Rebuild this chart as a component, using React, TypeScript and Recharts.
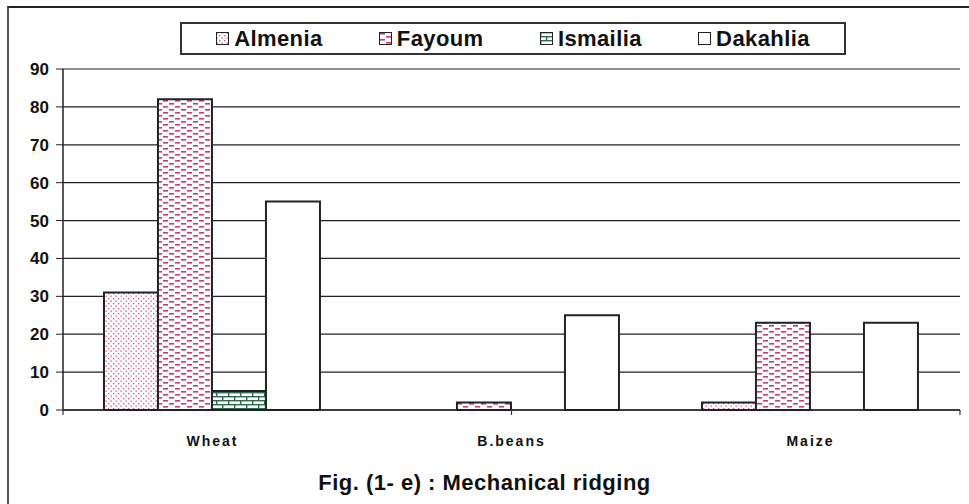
import { BarChart, Bar, XAxis, YAxis, CartesianGrid } from 'recharts';

const crops = ['Wheat', 'B.beans', 'Maize'];
const almenia = [31, 0, 2];
const fayoum = [82, 2, 23];
const ismailia = [5, 0, 0];
const dakahlia = [55, 25, 23];
const yTicks = [0, 10, 20, 30, 40, 50, 60, 70, 80, 90];
const boundaryTicks = [0, 1, 2, 3];

const data = crops.map((crop, i) => ({
  crop,
  Almenia: almenia[i],
  Fayoum: fayoum[i],
  Ismailia: ismailia[i],
  Dakahlia: dakahlia[i],
}));

const FONT = '"Liberation Sans", Arial, sans-serif';
const OUTLINE = '#222';

const series = [
  { key: 'Almenia', fill: 'url(#dots)' },
  { key: 'Fayoum', fill: 'url(#dashes)' },
  { key: 'Ismailia', fill: 'url(#bricks)' },
  { key: 'Dakahlia', fill: '#fff' },
];

function Patterns() {
  return (
    <svg width={0} height={0} style={{ position: 'absolute' }}>
      <defs>
        <pattern id="dots" width={5} height={5} patternUnits="userSpaceOnUse">
          <rect width={5} height={5} fill="#fff" />
          <rect x={0.5} y={0.5} width={1.3} height={1.3} fill="#d0508c" />
          <rect x={3} y={3} width={1.3} height={1.3} fill="#d0508c" />
        </pattern>
        <pattern id="dashes" width={12} height={6} patternUnits="userSpaceOnUse">
          <rect width={12} height={6} fill="#fff" />
          <rect x={1} y={1} width={5} height={1.6} fill="#c83a7c" />
          <rect x={7} y={4} width={5} height={1.6} fill="#c83a7c" />
        </pattern>
        <pattern id="bricks" width={12} height={8} patternUnits="userSpaceOnUse">
          <rect width={12} height={8} fill="#fff" />
          <rect x={0} y={0} width={12} height={1.4} fill="#2f6b4c" />
          <rect x={0} y={4} width={12} height={1.4} fill="#2f6b4c" />
          <rect x={0} y={0} width={1.4} height={4} fill="#2f6b4c" />
          <rect x={6} y={4} width={1.4} height={4} fill="#2f6b4c" />
        </pattern>
      </defs>
    </svg>
  );
}

function Legend() {
  return (
    <div
      style={{
        position: 'absolute',
        left: 180,
        top: 22,
        width: 666,
        height: 33,
        border: '2px solid #333',
        display: 'flex',
        alignItems: 'center',
        justifyContent: 'space-around',
        padding: '0 6px',
        boxSizing: 'border-box',
        fontFamily: FONT,
        fontWeight: 'bold',
        fontSize: 22,
        letterSpacing: 0.4,
        color: '#111',
      }}
    >
      {series.map((s) => (
        <div key={s.key} style={{ display: 'flex', alignItems: 'center' }}>
          <svg width={13} height={13} style={{ marginRight: 5 }}>
            <rect x={0.5} y={0.5} width={12} height={12} fill={s.fill} stroke={OUTLINE} strokeWidth={1} />
          </svg>
          <span>{s.key}</span>
        </div>
      ))}
    </div>
  );
}

export default function App() {
  return (
    <div
      style={{
        position: 'absolute',
        left: 0,
        top: 0,
        width: 969,
        height: 504,
        background: '#fff',
        overflow: 'hidden',
      }}
    >
      <Patterns />
      <div
        style={{
          position: 'absolute',
          left: 7,
          top: 6,
          width: 1000,
          height: 600,
          borderTop: '2px solid #222',
          borderLeft: '2px solid #555',
        }}
      />
      <Legend />
      <BarChart
        width={969}
        height={504}
        data={data}
        margin={{ top: 69, right: 9, left: 13, bottom: 58 }}
        barCategoryGap="13.7%"
        barGap={0}
        style={{ position: 'absolute', left: 0, top: 0 }}
      >
        <CartesianGrid vertical={false} stroke="#222" strokeWidth={1.2} />
        <XAxis
          xAxisId={0}
          type="number"
          domain={[0, 3]}
          ticks={boundaryTicks}
          interval={0}
          allowDataOverflow
          height={6}
          axisLine={{ stroke: '#222', strokeWidth: 1.5 }}
          tickFormatter={() => ''}
          tickSize={5}
          tickLine={{ stroke: '#333', strokeWidth: 1.2 }}
        />
        <XAxis
          xAxisId="cat"
          dataKey="crop"
          height={30}
          axisLine={false}
          tickLine={false}
          tickSize={0}
          tickMargin={20}
          tick={{ fontFamily: FONT, fontWeight: 'bold', fontSize: 14, fill: '#111', letterSpacing: 2 }}
        />
        <YAxis
          width={50}
          domain={[0, 90]}
          ticks={yTicks}
          interval={0}
          axisLine={{ stroke: '#222', strokeWidth: 1.5 }}
          tickSize={7}
          tickMargin={7}
          tickLine={{ stroke: '#222' }}
          tick={{ fontFamily: FONT, fontWeight: 'bold', fontSize: 17, fill: '#111' }}
        />
        <YAxis
          yAxisId="frame"
          orientation="right"
          width={0}
          domain={[0, 90]}
          tick={false}
          tickLine={false}
          axisLine={{ stroke: '#999', strokeWidth: 2 }}
        />
        {series.map((s) => (
          <Bar
            key={s.key}
            xAxisId="cat"
            dataKey={s.key}
            fill={s.fill}
            stroke={OUTLINE}
            strokeWidth={2}
            isAnimationActive={false}
          />
        ))}
      </BarChart>
      <div
        style={{
          position: 'absolute',
          left: 0,
          width: 969,
          top: 470,
          textAlign: 'center',
          fontFamily: FONT,
          fontWeight: 'bold',
          fontSize: 22,
          letterSpacing: 0.5,
          color: '#111',
        }}
      >
        Fig. (1- e) : Mechanical ridging
      </div>
    </div>
  );
}
